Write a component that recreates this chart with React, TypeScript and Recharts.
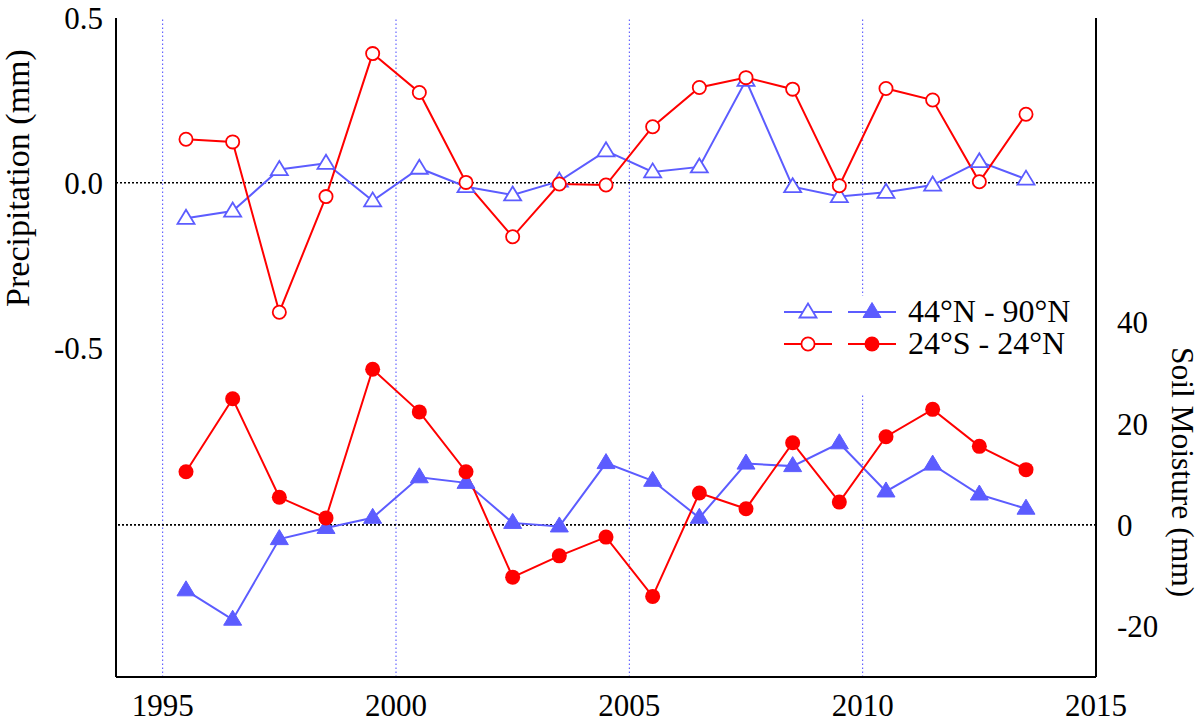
import React from 'react';
import { LineChart, Line, XAxis, YAxis, ReferenceLine, Legend } from 'recharts';

const years = [1995, 1996, 1997, 1998, 1999, 2000, 2001, 2002, 2003, 2004, 2005, 2006, 2007, 2008, 2009, 2010, 2011, 2012, 2013];
const precipNorth = [-0.108, -0.086, 0.04, 0.059, -0.055, 0.044, -0.012, -0.037, 0.005, 0.097, 0.033, 0.048, 0.311, -0.012, -0.042, -0.029, -0.007, 0.064, 0.011];
const precipTropics = [0.132, 0.124, -0.393, -0.042, 0.392, 0.274, 0.001, -0.164, -0.004, -0.007, 0.17, 0.289, 0.319, 0.284, -0.009, 0.286, 0.251, 0.003, 0.208];
const soilNorth = [-12.9, -18.7, -2.8, -0.6, 1.4, 9.4, 8.3, 0.4, -0.3, 12.2, 8.7, 1.4, 12.1, 11.6, 16.1, 6.6, 11.9, 6.0, 3.2];
const soilTropics = [10.5, 24.9, 5.45, 1.38, 30.7, 22.3, 10.5, -10.3, -6.1, -2.4, -14.1, 6.3, 3.2, 16.2, 4.5, 17.4, 22.8, 15.5, 10.9];

const xMajorTicks = [1995, 2000, 2005, 2010, 2015];
const xMinorTicks = [1995, 1996, 1997, 1998, 1999, 2000, 2001, 2002, 2003, 2004, 2005, 2006, 2007, 2008, 2009, 2010, 2011, 2012, 2013, 2014];
const precipTicks = [-0.5, 0, 0.5];
const soilTicks = [-20, 0, 20, 40];
const yearLines = [1995, 2000, 2005, 2010];
const legendLabels = ['44°N - 90°N', '24°S - 24°N'];

const data = years.map((y, i) => ({
  x: y + 0.5,
  pN: precipNorth[i],
  pT: precipTropics[i],
  sN: soilNorth[i],
  sT: soilTropics[i],
}));

const BLUE = '#5c5cff';
const RED = '#ff0000';
const FONT = 'Liberation Serif';
const X_DOMAIN: [number, number] = [1994, 2015];
const P_DOMAIN: [number, number] = [-1.5, 0.5];
const S_DOMAIN: [number, number] = [-30, 100];

const OpenTriangle = ({ cx, cy }: { cx: number; cy: number }) => (
  <polygon
    points={`${cx},${cy - 8.5} ${cx + 8.5},${cy + 5.5} ${cx - 8.5},${cy + 5.5}`}
    fill="#fff"
    stroke={BLUE}
    strokeWidth={1.8}
  />
);
const FilledTriangle = ({ cx, cy }: { cx: number; cy: number }) => (
  <polygon
    points={`${cx},${cy - 9.5} ${cx + 9},${cy + 5.5} ${cx - 9},${cy + 5.5}`}
    fill={BLUE}
    stroke={BLUE}
    strokeWidth={1}
  />
);
const OpenCircle = ({ cx, cy }: { cx: number; cy: number }) => (
  <circle cx={cx} cy={cy} r={6.6} fill="#fff" stroke={RED} strokeWidth={1.8} />
);
const FilledCircle = ({ cx, cy }: { cx: number; cy: number }) => (
  <circle cx={cx} cy={cy} r={7.5} fill={RED} />
);

const LegendBox = () => (
  <svg width={306} height={98} style={{ display: 'block', background: '#fff', overflow: 'visible' }}>
    {legendLabels.map((label, i) => {
      const y = 16 + i * 32;
      const color = i === 0 ? BLUE : RED;
      return (
        <g key={label}>
          <line x1={14} x2={62} y1={y} y2={y} stroke={color} strokeWidth={2} />
          <line x1={78} x2={126} y1={y} y2={y} stroke={color} strokeWidth={2} />
          {i === 0 ? (
            <>
              <OpenTriangle cx={38} cy={y} />
              <FilledTriangle cx={102} cy={y} />
            </>
          ) : (
            <>
              <OpenCircle cx={38} cy={y} />
              <FilledCircle cx={102} cy={y} />
            </>
          )}
          <text x={138} y={y + 9.5} fontSize={32} fontFamily={FONT} fill="#000">
            {label}
          </text>
        </g>
      );
    })}
  </svg>
);

const tickFont = { fontSize: 31, fill: '#000', fontFamily: FONT };
const frame = { stroke: '#000', strokeWidth: 2 };

export default function App() {
  return (
    <div style={{ position: 'absolute', left: 0, top: 0, width: 1200, height: 723, background: '#fff' }}>
      <LineChart width={1200} height={723} data={data} margin={{ top: 18, right: 10, bottom: 6, left: 16 }}>
        {yearLines.map((v) => (
          <ReferenceLine key={v} x={v} xAxisId="x" yAxisId="left" stroke="#4848ff" strokeWidth={1} strokeDasharray="1.5 2.5" />
        ))}
        <ReferenceLine y={0} xAxisId="x" yAxisId="left" stroke="#000" strokeWidth={1.6} strokeDasharray="2 2" />
        <ReferenceLine y={0} xAxisId="x" yAxisId="right" stroke="#000" strokeWidth={1.6} strokeDasharray="2 2" />

        <XAxis
          xAxisId="x"
          dataKey="x"
          type="number"
          domain={X_DOMAIN}
          ticks={xMajorTicks}
          interval={0}
          tickLine={false}
          tickSize={0}
          tickMargin={17}
          axisLine={frame}
          tick={tickFont}
          height={40}
        />
        <XAxis xAxisId="xb1" dataKey="x" type="number" domain={X_DOMAIN} ticks={xMajorTicks} interval={0} orientation="bottom" mirror tick={false} axisLine={false} tickSize={15} tickLine={frame} height={0} />
        <XAxis xAxisId="xb2" dataKey="x" type="number" domain={X_DOMAIN} ticks={xMinorTicks} interval={0} orientation="bottom" mirror tick={false} axisLine={false} tickSize={8} tickLine={frame} height={0} />
        <XAxis xAxisId="xt1" dataKey="x" type="number" domain={X_DOMAIN} ticks={xMajorTicks} interval={0} orientation="top" mirror tick={false} axisLine={frame} tickSize={15} tickLine={frame} height={0} />
        <XAxis xAxisId="xt2" dataKey="x" type="number" domain={X_DOMAIN} ticks={xMinorTicks} interval={0} orientation="top" mirror tick={false} axisLine={false} tickSize={8} tickLine={frame} height={0} />

        <YAxis
          yAxisId="left"
          orientation="left"
          type="number"
          domain={P_DOMAIN}
          ticks={precipTicks}
          interval={0}
          tickLine={false}
          tickSize={0}
          tickMargin={13}
          axisLine={frame}
          tick={tickFont}
          tickFormatter={(v: number) => v.toFixed(1)}
          width={100}
        />
        <YAxis yAxisId="lm" orientation="left" mirror type="number" domain={P_DOMAIN} ticks={precipTicks} interval={0} tick={false} axisLine={false} tickSize={15} tickLine={frame} width={0} />
        <YAxis
          yAxisId="right"
          orientation="right"
          type="number"
          domain={S_DOMAIN}
          ticks={soilTicks}
          interval={0}
          tickLine={false}
          tickSize={0}
          tickMargin={21}
          axisLine={frame}
          tick={tickFont}
          width={94}
        />
        <YAxis yAxisId="rm" orientation="right" mirror type="number" domain={S_DOMAIN} ticks={soilTicks} interval={0} tick={false} axisLine={false} tickSize={15} tickLine={frame} width={0} />

        <Line xAxisId="x" yAxisId="left" dataKey="pN" stroke={BLUE} strokeWidth={2} isAnimationActive={false} activeDot={false}
          dot={(p: any) => <OpenTriangle key={`pn${p.index}`} cx={p.cx} cy={p.cy} />} />
        <Line xAxisId="x" yAxisId="left" dataKey="pT" stroke={RED} strokeWidth={2} isAnimationActive={false} activeDot={false}
          dot={(p: any) => <OpenCircle key={`pt${p.index}`} cx={p.cx} cy={p.cy} />} />
        <Line xAxisId="x" yAxisId="right" dataKey="sN" stroke={BLUE} strokeWidth={2} isAnimationActive={false} activeDot={false}
          dot={(p: any) => <FilledTriangle key={`sn${p.index}`} cx={p.cx} cy={p.cy} />} />
        <Line xAxisId="x" yAxisId="right" dataKey="sT" stroke={RED} strokeWidth={2} isAnimationActive={false} activeDot={false}
          dot={(p: any) => <FilledCircle key={`st${p.index}`} cx={p.cx} cy={p.cy} />} />

        <Legend
          layout="horizontal"
          verticalAlign="middle"
          align="center"
          content={() => <LegendBox />}
          wrapperStyle={{ position: 'absolute', left: 770, top: 296, width: 306, height: 98, background: '#fff' }}
        />
      </LineChart>
      <svg width={1200} height={723} style={{ position: 'absolute', left: 0, top: 0, pointerEvents: 'none' }}>
        <text transform="translate(29,178) rotate(-90)" textAnchor="middle" fontSize={34} fontFamily={FONT} fill="#000">
          Precipitation (mm)
        </text>
        <text transform="translate(1172,472) rotate(90)" textAnchor="middle" fontSize={31.5} fontFamily={FONT} fill="#000">
          Soil Moisture (mm)
        </text>
      </svg>
    </div>
  );
}
